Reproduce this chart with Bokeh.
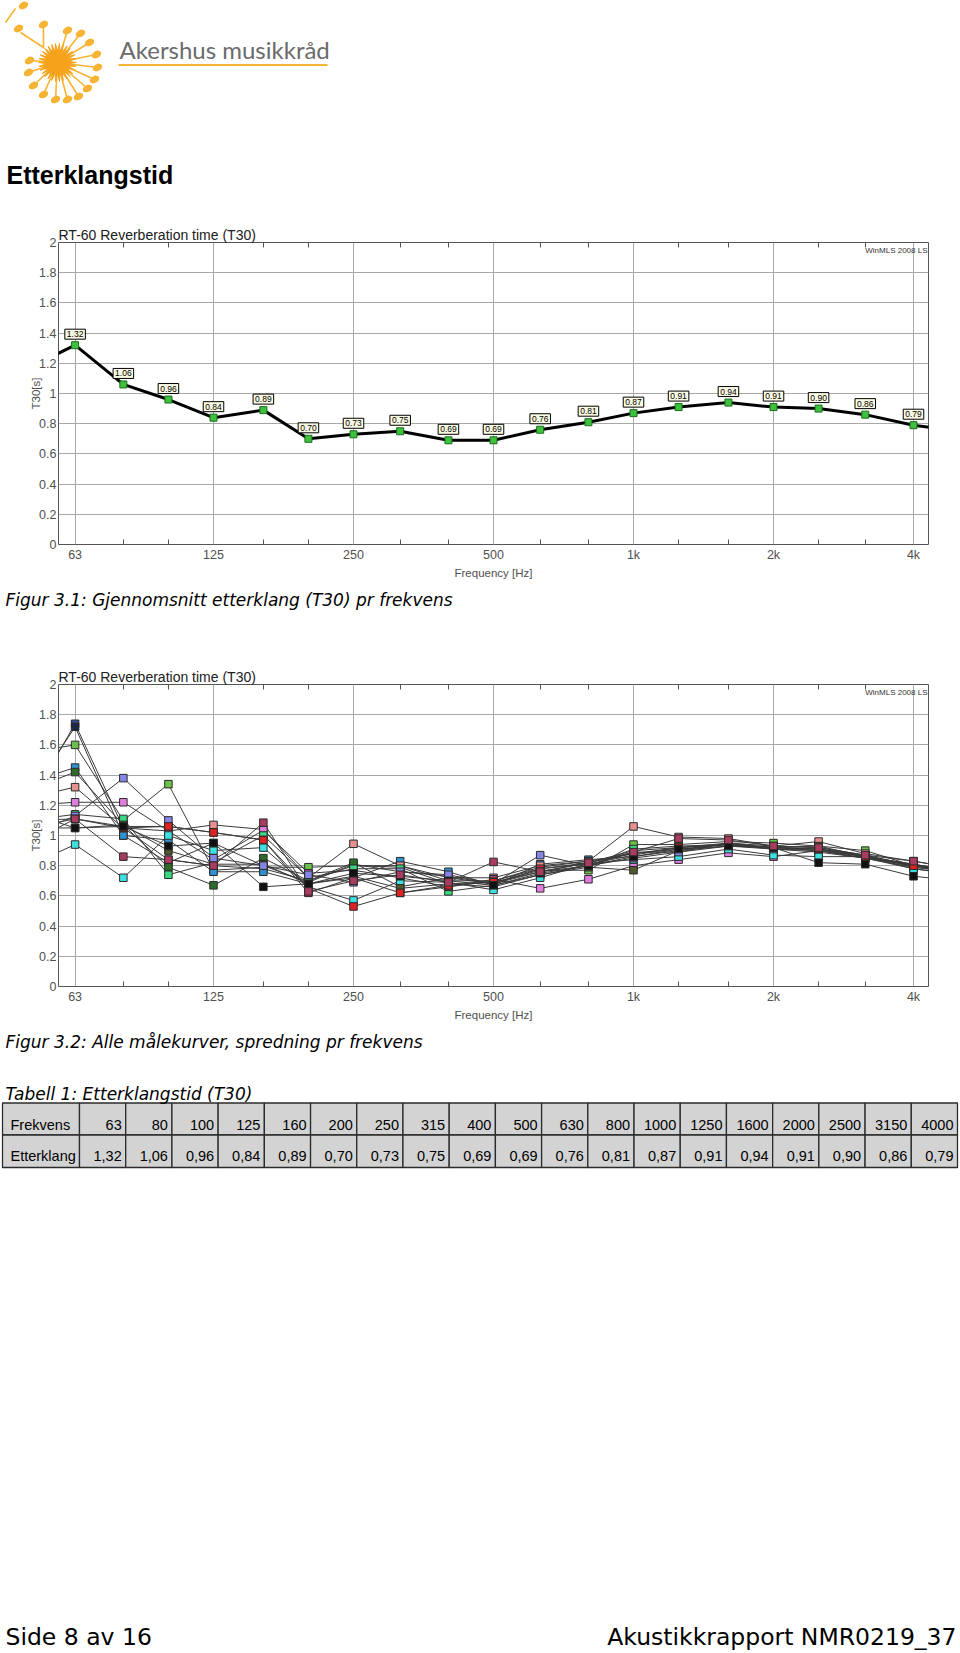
import math
from bokeh.plotting import figure
from bokeh.models import Range1d, FixedTicker, LogAxis, Label
from bokeh.layouts import column
from bokeh.embed import file_html
from bokeh.resources import INLINE
from bokeh.core.properties import value

# ---------------- data ----------------
FREQS = [63, 80, 100, 125, 160, 200, 250, 315, 400, 500, 630, 800,
         1000, 1250, 1600, 2000, 2500, 3150, 4000]
T30_AVG = [1.32, 1.06, 0.96, 0.84, 0.89, 0.70, 0.73, 0.75, 0.69, 0.69,
           0.76, 0.81, 0.87, 0.91, 0.94, 0.91, 0.90, 0.86, 0.79]
EDGE_FREQS = [50, 5000]            # bands just outside the visible range
T30_AVG_EDGE = [1.17, 0.75]

OCTAVE_TICKS = [63, 125, 250, 500, 1000, 2000, 4000]
OCTAVE_LABELS = ["63", "125", "250", "500", "1k", "2k", "4k"]
Y_TICKS = [0, 0.2, 0.4, 0.6, 0.8, 1, 1.2, 1.4, 1.6, 1.8, 2]
Y_LABELS = ["0", "0.2", "0.4", "0.6", "0.8", "1", "1.2", "1.4", "1.6", "1.8", "2"]

TABLE_FREQ_LABELS = ["63", "80", "100", "125", "160", "200", "250", "315", "400", "500",
                     "630", "800", "1000", "1250", "1600", "2000", "2500", "3150", "4000"]

SERIES_COLORS = ["#3a4f99", "#1b2744", "#6cc04a", "#3090d0", "#2f6a2a", "#e89090",
                 "#e07ee0", "#3cd882", "#c83048", "#505a2c", "#3ee0e0", "#8585e5",
                 "#dd2222", "#111111", "#a83c5e"]
SERIES_T30 = [
    [1.74, 1.05, 0.84, 0.80, 0.78, 0.70, 0.80, 0.80, 0.70, 0.70, 0.79, 0.83, 0.88, 0.91, 0.94, 0.92, 0.91, 0.86, 0.81],
    [1.72, 1.00, 0.82, 0.95, 0.80, 0.69, 0.81, 0.76, 0.73, 0.68, 0.78, 0.82, 0.90, 0.92, 0.95, 0.93, 0.92, 0.87, 0.80],
    [1.60, 1.10, 1.34, 0.77, 0.79, 0.79, 0.80, 0.79, 0.68, 0.69, 0.77, 0.77, 0.94, 0.94, 0.96, 0.95, 0.93, 0.90, 0.80],
    [1.45, 1.00, 0.97, 0.76, 0.76, 0.68, 0.72, 0.83, 0.76, 0.67, 0.81, 0.84, 0.86, 0.90, 0.95, 0.92, 0.91, 0.87, 0.79],
    [1.42, 1.07, 0.79, 0.67, 0.85, 0.70, 0.82, 0.66, 0.72, 0.68, 0.76, 0.80, 0.89, 0.89, 0.93, 0.91, 0.90, 0.86, 0.80],
    [1.32, 1.05, 1.03, 1.07, 1.04, 0.72, 0.945, 0.80, 0.72, 0.72, 0.80, 0.83, 1.06, 0.99, 0.98, 0.93, 0.96, 0.88, 0.83],
    [1.22, 1.22, 1.03, 0.84, 1.035, 0.75, 0.77, 0.72, 0.66, 0.71, 0.65, 0.71, 0.80, 0.84, 0.885, 0.86, 0.90, 0.85, 0.79],
    [1.14, 1.11, 0.74, 0.82, 1.00, 0.72, 0.78, 0.78, 0.63, 0.67, 0.74, 0.80, 0.91, 0.93, 0.94, 0.91, 0.89, 0.85, 0.78],
    [1.11, 1.06, 1.06, 1.02, 0.97, 0.62, 0.72, 0.62, 0.66, 0.70, 0.78, 0.81, 0.87, 0.92, 0.94, 0.92, 0.90, 0.85, 0.80],
    [1.05, 1.07, 0.90, 0.81, 0.81, 0.68, 0.73, 0.65, 0.68, 0.66, 0.74, 0.79, 0.77, 0.90, 0.93, 0.92, 0.93, 0.86, 0.81],
    [0.94, 0.72, 1.00, 0.90, 0.92, 0.66, 0.57, 0.70, 0.69, 0.64, 0.72, 0.815, 0.84, 0.86, 0.91, 0.87, 0.86, 0.86, 0.78],
    [1.13, 1.38, 1.10, 0.85, 0.80, 0.74, 0.69, 0.76, 0.74, 0.68, 0.87, 0.80, 0.85, 0.89, 0.95, 0.91, 0.91, 0.86, 0.80],
    [1.11, 1.05, 1.06, 1.02, 0.97, 0.65, 0.53, 0.62, 0.67, 0.69, 0.76, 0.82, 0.88, 0.92, 0.94, 0.92, 0.91, 0.86, 0.80],
    [1.05, 1.06, 0.93, 0.95, 0.66, 0.68, 0.75, 0.73, 0.70, 0.67, 0.75, 0.80, 0.86, 0.91, 0.93, 0.92, 0.82, 0.81, 0.73],
    [1.11, 0.86, 0.84, 0.80, 1.085, 0.63, 0.70, 0.74, 0.69, 0.825, 0.76, 0.82, 0.89, 0.98, 0.97, 0.93, 0.92, 0.87, 0.83],
]
SERIES_T30_50HZ = [1.20, 1.25, 1.55, 1.35, 1.30, 1.25, 1.20, 1.10, 1.05, 1.05, 0.80, 1.00, 1.10, 1.15, 0.95]
SERIES_T30_5KHZ = [0.76, 0.75, 0.77, 0.76, 0.77, 0.78, 0.75, 0.74, 0.76, 0.76, 0.74, 0.76, 0.77, 0.70, 0.78]

# ---------------- styling helpers ----------------
SANS_NAME = "Liberation Sans"
SANS = value(SANS_NAME)
VERD = value("DejaVu Sans")
W = 960


def mid(baseline, size):
    """vertical centre of a line of text whose baseline is given"""
    return baseline - 0.35 * size


def blank(height, y_top, y_bottom):
    p = figure(width=W, height=height, x_range=Range1d(0, W), y_range=Range1d(y_bottom, y_top),
               output_backend="svg", toolbar_location=None, min_border=0,
               x_axis_location=None, y_axis_location=None, frame_align=False)
    p.grid.visible = False
    p.outline_line_color = None
    p.background_fill_color = "white"
    return p


def chart():
    minor = [f for f in FREQS if f not in OCTAVE_TICKS]
    p = figure(width=W, height=380, x_axis_type="log",
               x_range=Range1d(58.03, 4308), y_range=Range1d(0, 2),
               output_backend="svg", toolbar_location=None, frame_align=False,
               min_border_left=58, min_border_right=32, min_border_top=37, min_border_bottom=41)
    p.outline_line_color = "#555555"
    p.outline_line_width = 1
    xa = p.xaxis[0]
    xa.ticker = FixedTicker(ticks=OCTAVE_TICKS, minor_ticks=minor)
    xa.major_label_overrides = dict(zip(OCTAVE_TICKS, OCTAVE_LABELS))
    xa.major_tick_in = 0
    xa.major_tick_out = 0
    xa.minor_tick_in = 5
    xa.minor_tick_out = 0
    xa.minor_tick_line_color = "#555555"
    xa.axis_line_color = None
    xa.major_label_text_font = SANS_NAME
    xa.major_label_text_font_size = "12.5px"
    xa.major_label_text_color = "#505050"
    xa.major_label_standoff = 3
    xa.axis_label = "Frequency [Hz]"
    xa.axis_label_text_font = SANS_NAME
    xa.axis_label_text_font_size = "11.5px"
    xa.axis_label_text_font_style = "normal"
    xa.axis_label_text_color = "#505050"
    xa.axis_label_standoff = 2

    ya = p.yaxis[0]
    ya.ticker = FixedTicker(ticks=Y_TICKS)
    ya.major_label_overrides = dict(zip(Y_TICKS, Y_LABELS))
    ya.major_tick_in = 0
    ya.major_tick_out = 0
    ya.minor_tick_line_color = None
    ya.axis_line_color = None
    ya.major_label_text_font = SANS_NAME
    ya.major_label_text_font_size = "12.5px"
    ya.major_label_text_color = "#505050"
    ya.major_label_standoff = 2
    ya.axis_label = "T30[s]"
    ya.axis_label_text_font = SANS_NAME
    ya.axis_label_text_font_size = "11.5px"
    ya.axis_label_text_font_style = "normal"
    ya.axis_label_text_color = "#505050"
    ya.axis_label_standoff = -6

    top = LogAxis(ticker=FixedTicker(ticks=[], minor_ticks=minor),
                  major_label_text_font_size="0px", axis_line_color=None,
                  major_tick_line_color=None, minor_tick_in=5, minor_tick_out=0,
                  minor_tick_line_color="#555555", major_label_standoff=0)
    p.add_layout(top, "above")

    p.xgrid.ticker = FixedTicker(ticks=OCTAVE_TICKS)
    p.ygrid.ticker = FixedTicker(ticks=Y_TICKS)
    p.grid.grid_line_color = "#a8a8a8"
    p.grid.grid_line_width = 1

    p.title.text = "RT-60 Reverberation time (T30)"
    p.title.align = "left"
    p.title.standoff = 0
    p.title.offset = 0
    p.title.text_font = SANS_NAME
    p.title.text_font_size = "14px"
    p.title.text_font_style = "normal"
    p.title.text_color = "#202020"

    p.add_layout(Label(x=4308, y=2, text="WinMLS 2008 LS", text_font=SANS_NAME,
                       text_font_size="8px", text_color="#333333", text_align="right",
                       text_baseline="top", x_offset=-1, y_offset=-3))
    return p


# ---------------- header (logo + heading) ----------------
head = blank(205, 0, 205)
sun_c = (57, 62)
star_x, star_y = [], []
for k in range(60):
    r = 19 if k % 2 == 0 else 11
    a = math.pi * k / 30
    star_x.append(sun_c[0] + r * math.cos(a))
    star_y.append(sun_c[1] + r * math.sin(a))
note_pts = [(67, 30), (80, 33), (89, 42), (96, 54), (97, 67), (94, 79), (87, 88), (78, 96),
            (67, 99), (55, 99), (43, 94), (33, 85), (28, 72), (29, 60)]
head.segment(x0=[sun_c[0]] * len(note_pts), y0=[sun_c[1]] * len(note_pts),
             x1=[q[0] for q in note_pts], y1=[q[1] for q in note_pts],
             line_color="#f7b434", line_width=1.6)
head.segment(x0=[15, 20, 43], y0=[8, 32, 27], x1=[5, 43, 43], y1=[22, 47, 48],
             line_color="#f7b434", line_width=1.6)
head.patch(star_x, star_y, fill_color="#f6a31b", line_color="#f6a31b")
head.ellipse(x=[q[0] for q in note_pts] + [23, 18, 43], y=[q[1] for q in note_pts] + [5, 28, 24],
             width=10, height=7, angle=0.5, fill_color="#f7b434", line_color=None)
head.text(x=[119], y=[mid(57, 24)], text=["Akershus musikkråd"], text_font=value("Lato"),
          text_font_size="24px", text_color="#6b6b6b", text_baseline="middle")
head.segment(x0=[118], y0=[64.5], x1=[327], y1=[64.5], line_color="#f5b335", line_width=2)
head.text(x=[6], y=[mid(183.3, 25)], text=["Etterklangstid"], text_font=SANS, text_font_style="bold",
          text_font_size="25px", text_color="#000000", text_baseline="middle")

# ---------------- chart 1 ----------------
c1 = chart()
c1.line(x=[EDGE_FREQS[0]] + FREQS + [EDGE_FREQS[1]],
        y=[T30_AVG_EDGE[0]] + T30_AVG + [T30_AVG_EDGE[1]],
        line_color="black", line_width=3)
c1.scatter(x=FREQS, y=T30_AVG, marker="square", size=7,
           fill_color="#3cc23c", line_color="#1d6b1d", line_width=1)
c1.text(x=FREQS, y=T30_AVG, text=[f"{v:.2f}" for v in T30_AVG], y_offset=-11,
        text_font=SANS, text_font_size="8.5px", text_color="black",
        text_align="center", text_baseline="middle",
        background_fill_color="#fbfbe4", border_line_color="black", padding=2)

# ---------------- caption 1 ----------------
cap1 = blank(62, 585, 647)
cap1.text(x=[5], y=[mid(605.7, 17)], text=["Figur 3.1: Gjennomsnitt etterklang (T30) pr frekvens"],
          text_font=VERD, text_font_style="italic", text_font_size="17px",
          text_color="black", text_baseline="middle")

# ---------------- chart 2 ----------------
c2 = chart()
for col, vals, e0, e1 in zip(SERIES_COLORS, SERIES_T30, SERIES_T30_50HZ, SERIES_T30_5KHZ):
    c2.line(x=[EDGE_FREQS[0]] + FREQS + [EDGE_FREQS[1]], y=[e0] + vals + [e1],
            line_color="#3a3a3a", line_width=1)
for col, vals in zip(SERIES_COLORS, SERIES_T30):
    c2.scatter(x=FREQS, y=vals, marker="square", size=7.5, fill_color=col,
               line_color="#2a2a2a", line_width=1)

# ---------------- caption 2, table, footer ----------------
bot = blank(626, 1027, 1653)
bot.text(x=[5], y=[mid(1047, 17)], text=["Figur 3.2: Alle målekurver, spredning pr frekvens"],
         text_font=VERD, text_font_style="italic", text_font_size="17px",
         text_color="black", text_baseline="middle")

first_l, first_r, last_r = 2, 79, 957
n = len(TABLE_FREQ_LABELS)
cw = (last_r - first_r) / n
row_t, row_m, row_b = 1102.5, 1134.5, 1167
lefts = [first_l] + [first_r + i * cw for i in range(n)]
rights = [first_r] + [first_r + (i + 1) * cw for i in range(n)]
for top_y, bot_y in ((row_t, row_m), (row_m, row_b)):
    bot.quad(left=lefts, right=rights, top=[top_y] * len(lefts), bottom=[bot_y] * len(lefts),
             fill_color="#d3d3d3", line_color="#2b2b2b", line_width=1.3)

bot.text(x=[5], y=[mid(1099.5, 17)], text=["Tabell 1: Etterklangstid (T30)"],
         text_font=VERD, text_font_style="italic", text_font_size="17px",
         text_color="black", text_baseline="middle")

y1 = mid(row_m - 5, 14.5)
y2 = mid(row_b - 6, 14.5)
bot.text(x=[10, 10], y=[y1, y2], text=["Frekvens", "Etterklang"],
         text_font=SANS, text_font_size="14.5px", text_color="black", text_baseline="middle")
bot.text(x=[r - 4 for r in rights[1:]], y=[y1] * n, text=TABLE_FREQ_LABELS,
         text_font=SANS, text_font_size="14.5px", text_color="black",
         text_align="right", text_baseline="middle")
bot.text(x=[r - 4 for r in rights[1:]], y=[y2] * n,
         text=[f"{v:.2f}".replace(".", ",") for v in T30_AVG],
         text_font=SANS, text_font_size="14.5px", text_color="black",
         text_align="right", text_baseline="middle")

bot.text(x=[5], y=[mid(1645, 23.5)], text=["Side 8 av 16"], text_font=VERD, text_font_size="23.5px",
         text_color="black", text_baseline="middle")
bot.text(x=[956], y=[mid(1645, 23.5)], text=["Akustikkrapport NMR0219_37"], text_font=VERD,
         text_font_size="23.5px", text_color="black", text_align="right", text_baseline="middle")

page = column(head, c1, cap1, c2, bot, spacing=0)
open("out.html", "w").write(file_html(page, INLINE))
